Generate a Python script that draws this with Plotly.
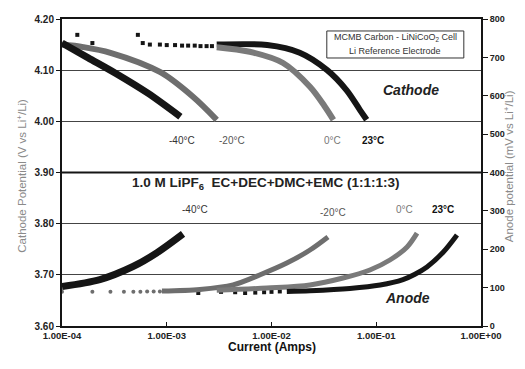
import plotly.graph_objects as go

# ---------------- data ----------------
# Cathode curves (V vs Li+/Li), x = current (A)
cath_m40_x = [1.0e-4, 1.78e-4, 3.24e-4, 6.6e-4, 1.35e-3]
cath_m40_y = [4.153, 4.124, 4.094, 4.055, 4.009]

cath_m20_x = [1.0e-4, 1.6e-4, 2.9e-4, 8.7e-4, 1.78e-3, 3.0e-3]
cath_m20_y = [4.150, 4.145, 4.134, 4.096, 4.048, 4.003]

cath_0_x = [3.0e-3, 6.2e-3, 1.29e-2, 2.34e-2, 3.2e-2, 3.9e-2]
cath_0_y = [4.145, 4.136, 4.114, 4.067, 4.030, 4.003]

cath_23_x = [3.0e-3, 9.1e-3, 1.86e-2, 3.4e-2, 5.2e-2, 7.0e-2, 8.1e-2]
cath_23_y = [4.150, 4.149, 4.134, 4.100, 4.061, 4.022, 4.003]

cath_pts_x = [1.4e-4, 1.95e-4, 5.3e-4, 5.9e-4, 6.9e-4, 8.6e-4, 1.0e-3, 1.2e-3,
              1.4e-3, 1.6e-3, 1.85e-3, 2.1e-3, 2.4e-3, 2.7e-3]
cath_pts_y = [4.169, 4.153, 4.169, 4.153, 4.150, 4.150, 4.149, 4.149,
              4.148, 4.148, 4.148, 4.147, 4.147, 4.147]

# Anode curves (mV vs Li+/Li)
an_m40_x = [1.0e-4, 2.3e-4, 4.76e-4, 8.07e-4, 1.43e-3]
an_m40_y = [103, 121, 155, 191, 240]

an_m20_pts_x = [1.0e-4, 1.95e-4, 2.9e-4, 3.9e-4, 4.8e-4, 5.6e-4, 6.5e-4, 7.5e-4, 8.6e-4]
an_m20_pts_y = [89, 89, 89, 89, 89, 89, 90, 90, 90]
an_m20_x = [9.0e-4, 2.07e-3, 4.3e-3, 7.7e-3, 1.4e-2, 2.33e-2, 3.46e-2]
an_m20_y = [91, 95, 107, 133, 164, 198, 232]

an_0_x = [3.0e-3, 9.06e-3, 2.33e-2, 4.82e-2, 8.7e-2, 0.135, 0.197, 0.245]
an_0_y = [93, 99, 107, 125, 146, 172, 206, 242]

an_23_pts_x = [2.0e-3, 3.3e-3, 4.5e-3, 5.6e-3, 7.0e-3, 8.5e-3, 1.0e-2, 1.2e-2]
an_23_pts_y = [86, 89, 88, 86, 87, 88, 89, 90]
an_23_x = [1.4e-2, 2.33e-2, 5.6e-2, 0.109, 0.18, 0.234, 0.305, 0.435, 0.59]
an_23_y = [90, 92, 98, 107, 121, 135, 154, 192, 237]

x_tickvals = [1e-4, 1e-3, 1e-2, 1e-1, 1e0]
x_ticktext = ["1.00E-04", "1.00E-03", "1.00E-02", "1.00E-01", "1.00E+00"]
yl_tickvals = [3.6, 3.7, 3.8, 3.9, 4.0, 4.1, 4.2]
yl_ticktext = ["3.60", "3.70", "3.80", "3.90", "4.00", "4.10", "4.20"]
yr_tickvals = [0, 100, 200, 300, 400, 500, 600, 700, 800]
yr_ticktext = ["0", "100", "200", "300", "400", "500", "600", "700", "800"]

BLACK = "#151515"
GRAY = "#6e6e6e"
GRAY2 = "#7a7a7a"
FONT = "Liberation Sans, Arial, sans-serif"

fig = go.Figure()

def curve(x, y, color, yaxis="y", width=6):
    fig.add_trace(go.Scatter(x=x, y=y, mode="lines", yaxis=yaxis,
                             line=dict(color=color, width=width, shape="spline",
                                       smoothing=0.9),
                             showlegend=False, hoverinfo="skip"))

def pts(x, y, color, yaxis="y", symbol="circle", size=4):
    fig.add_trace(go.Scatter(x=x, y=y, mode="markers", yaxis=yaxis,
                             marker=dict(color=color, size=size, symbol=symbol),
                             showlegend=False, hoverinfo="skip"))

# cathode
pts(cath_pts_x, cath_pts_y, BLACK, symbol="square", size=4)
curve(cath_23_x, cath_23_y, BLACK)
curve(cath_0_x, cath_0_y, GRAY2)
curve(cath_m20_x, cath_m20_y, GRAY)
curve(cath_m40_x, cath_m40_y, BLACK, width=7)

# anode
pts(an_m20_pts_x, an_m20_pts_y, GRAY, yaxis="y2", size=4)
pts(an_23_pts_x, an_23_pts_y, BLACK, yaxis="y2", symbol="square", size=4)
curve(an_m20_x, an_m20_y, GRAY, yaxis="y2", width=5)
curve(an_0_x, an_0_y, GRAY2, yaxis="y2", width=5)
curve(an_23_x, an_23_y, BLACK, yaxis="y2", width=5)
curve(an_m40_x, an_m40_y, BLACK, yaxis="y2", width=7)

tickfont = dict(family=FONT, size=10, color="#222")

def bold(lst):
    return ["<b>" + s + "</b>" for s in lst]

# margins compensate for the 8px page-body offset
fig.update_layout(
    width=525, height=369,
    margin=dict(l=54, r=52, t=11, b=51),
    paper_bgcolor="white", plot_bgcolor="white",
    font=dict(family=FONT),
    xaxis=dict(type="log", range=[-4, 0], tickvals=x_tickvals, ticktext=bold(x_ticktext),
               showgrid=False, zeroline=False, showline=True, linecolor=BLACK,
               linewidth=2, mirror=True, ticks="inside", ticklen=4, tickcolor=BLACK,
               tickfont=dict(family=FONT, size=9.5, color="#222"), automargin=False),
    yaxis=dict(range=[3.6, 4.2], tickvals=yl_tickvals, ticktext=bold(yl_ticktext),
               showgrid=True, gridcolor="#444", gridwidth=1, zeroline=False,
               showline=True, linecolor=BLACK, linewidth=2,
               ticks="outside", ticklen=4, tickcolor=BLACK,
               tickfont=tickfont, automargin=False),
    yaxis2=dict(range=[0, 800], tickvals=yr_tickvals, ticktext=bold(yr_ticktext),
                overlaying="y", side="right",
                showgrid=False, zeroline=False, showline=True, linecolor=BLACK,
                linewidth=2, ticks="outside", ticklen=5, tickcolor=BLACK,
                tickfont=dict(family=FONT, size=9, color="#222"), automargin=False),
)

# axis titles
fig.add_annotation(xref="paper", yref="paper", x=0.5, y=-0.098,
                   text="<b>Current (Amps)</b>", showarrow=False,
                   font=dict(family=FONT, size=12, color="#111"))
fig.add_annotation(xref="paper", yref="paper", x=-0.119, y=0.49, textangle=-90,
                   text="Cathode Potential (V vs Li<sup>+</sup>/Li)", showarrow=False,
                   font=dict(family=FONT, size=11.5, color="#8a8a8a"))
fig.add_annotation(xref="paper", yref="paper", x=1.088, y=0.52, textangle=-90,
                   text="Anode potential (mV vs Li<sup>+</sup>/Li)", showarrow=False,
                   font=dict(family=FONT, size=11.5, color="#8a8a8a"))

# thicker divider at 3.90
fig.add_shape(type="line", xref="paper", yref="y", x0=0, x1=1, y0=3.9, y1=3.9,
              line=dict(color=BLACK, width=2))

# info box
fig.add_shape(type="rect", xref="paper", yref="paper", x0=0.632, x1=0.959,
              y0=0.873, y1=0.961, line=dict(color="#333", width=1), fillcolor="white")
fig.add_annotation(xref="paper", yref="paper", x=0.795, y=0.939, xanchor="center",
                   yanchor="middle",
                   text="MCMB Carbon - LiNiCoO<sub>2</sub> Cell",
                   showarrow=False, font=dict(family=FONT, size=9, color="#333"))
fig.add_annotation(xref="paper", yref="paper", x=0.795, y=0.895, xanchor="center",
                   yanchor="middle",
                   text="Li Reference Electrode",
                   showarrow=False, font=dict(family=FONT, size=9, color="#333"))

def label(x, y, text, color="#222", size=10, bold=False, italic=False):
    t = text
    if bold:
        t = "<b>" + t + "</b>"
    if italic:
        t = "<i>" + t + "</i>"
    fig.add_annotation(x=x, y=y, xref="x", yref="y", text=t, showarrow=False,
                       font=dict(family=FONT, size=size, color=color))

# cathode temperature labels
label(-2.855, 3.962, "-40°C", color="#333")
label(-2.377, 3.962, "-20°C", color="#555")
label(-1.413, 3.962, "0°C", color="#777")
label(-1.03, 3.962, "23°C", color="#111", bold=True)
# anode temperature labels
label(-2.73, 3.827, "-40°C", color="#333")
label(-1.41, 3.822, "-20°C", color="#555")
label(-0.726, 3.827, "0°C", color="#777")
label(-0.363, 3.827, "23°C", color="#111", bold=True)

label(-0.668, 4.061, "Cathode", color="#222", size=14, bold=True, italic=True)
label(-0.706, 3.655, "Anode", color="#222", size=14, bold=True, italic=True)
label(-2.062, 3.878, "1.0 M LiPF<sub>6</sub>  EC+DEC+DMC+EMC (1:1:1:3)",
      color="#222", size=13.5, bold=True)

fig.write_html("out.html")
